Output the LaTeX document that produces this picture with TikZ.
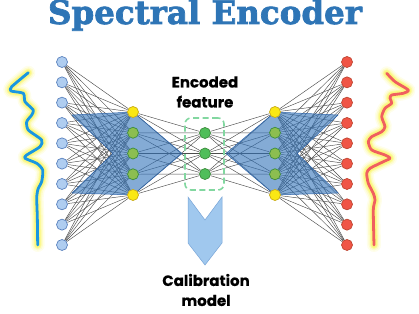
\documentclass[tikz,border=0pt]{standalone}
\usepackage{fontspec}
\setmainfont[BoldFeatures={FakeBold=0.6}]{Poppins}
\newfontfamily\titlefont[BoldFeatures={FakeBold=2.2}]{DejaVu Serif}
\usetikzlibrary{calc}
\pgfdeclarelayer{edges}
\pgfdeclarelayer{shade}
\pgfsetlayers{edges,shade,main}
\definecolor{titleblue}{RGB}{46,117,182}
\definecolor{inblue}{RGB}{175,205,240}
\definecolor{inblueD}{RGB}{90,130,190}
\definecolor{outred}{RGB}{240,85,70}
\definecolor{outredD}{RGB}{190,70,50}
\definecolor{hgreen}{RGB}{140,190,80}
\definecolor{egreen}{RGB}{80,190,90}
\definecolor{greenD}{RGB}{60,140,60}
\definecolor{nyellow}{RGB}{250,232,20}
\definecolor{nyellowD}{RGB}{200,170,20}
\definecolor{shadeblue}{RGB}{50,115,185}
\definecolor{shadeD}{RGB}{45,100,170}
\definecolor{boxgreen}{RGB}{130,215,160}
\definecolor{chevfill}{RGB}{160,200,238}
\definecolor{chevD}{RGB}{120,165,215}
\definecolor{wblue}{RGB}{25,150,225}
\definecolor{wred}{RGB}{240,95,95}
\definecolor{glow}{RGB}{250,245,90}
\tikzset{
  neuron/.style={circle, inner sep=0pt, minimum size=11pt, line width=0.7pt},
  inn/.style={neuron, fill=inblue, draw=inblueD},
  outn/.style={neuron, fill=outred, draw=outredD},
  hidn/.style={neuron, fill=hgreen, draw=greenD},
  encn/.style={neuron, fill=egreen, draw=greenD},
  yeln/.style={neuron, fill=nyellow, draw=nyellowD},
  edge/.style={draw=black!70, line width=0.45pt},
  shadeshape/.style={fill=shadeblue, fill opacity=0.6, draw=shadeD, line width=0.5pt},
  lbl/.style={font=\bfseries\fontsize{15}{20}\selectfont, align=center, text=black},
}
\begin{document}
\begin{tikzpicture}[x=1pt,y=-1pt]
\useasboundingbox (0,0) rectangle (419,313);
% title
\node[font=\titlefont\bfseries\fontsize{32.5}{34}\selectfont, text=titleblue] (title) at (205,15) {Spectral Encoder};
% neurons
\foreach \i in {1,...,10} {
  \node[inn] (a\i) at (62,{62+(\i-1)*20.33}) {};
  \node[outn] (e\i) at (347,{62+(\i-1)*20.33}) {};
}
\foreach \j in {1,...,5} {
  \ifnum\j=1 \def\st{yeln}\else\ifnum\j=5 \def\st{yeln}\else\def\st{hidn}\fi\fi
  \node[\st] (b\j) at (133,{112+(\j-1)*20.75}) {};
  \node[\st] (d\j) at (275,{112+(\j-1)*20.75}) {};
}
\foreach \k in {1,2,3} {
  \node[encn] (c\k) at (205,{133+(\k-1)*20.5}) {};
}
% edges
\begin{pgfonlayer}{edges}
\foreach \i in {1,...,10} \foreach \j in {1,...,5} {
  \draw[edge] (a\i) -- (b\j);
  \draw[edge] (d\j) -- (e\i);
}
\foreach \j in {1,...,5} \foreach \k in {1,2,3} {
  \draw[edge] (b\j) -- (c\k);
  \draw[edge] (c\k) -- (d\j);
}
\end{pgfonlayer}
% blue shading
\begin{pgfonlayer}{shade}
\path[shadeshape] (72,115) -- (133,112) -- (182,153.5) -- (133,195) -- (72,193) -- (113,153.5) -- cycle;
\path[shadeshape] (338,115) -- (275,112) -- (226,153.5) -- (275,195) -- (338,193) -- (297,153.5) -- cycle;
\end{pgfonlayer}
% encoded box
\node[draw=boxgreen, dashed, dash pattern=on 6pt off 3.5pt, line width=1.6pt, rounded corners=6pt, minimum width=39pt, minimum height=72pt] (box) at (204.5,154) {};
% labels
\node[lbl] (enc) at (205,92) {Encoded\\feature};
\node[lbl] (cal) at (206,290) {Calibration\\model};
% chevron arrow
\path[fill=chevfill, draw=chevD, line width=0.5pt] (188,197) -- (205,220) -- (222,197) -- (222,243) -- (205,265) -- (188,243) -- cycle;
% waves
\def\lw{(28.3,72.7) (11.7,86.7) (11,91) (23.3,93.3) (25,101.7) (33.3,110) (31.7,115) (26.7,121.7) (28.3,130) (41.7,140) (40,146.7) (26.7,155) (25,158.3) (36.7,163.3) (42.7,170) (41.7,181.7) (38.3,188.3) (36.7,196.7) (37.3,216.7) (37.7,245)}
\def\rw{(386.7,73.3) (395,81.7) (408.3,90) (403.3,93.3) (391.7,95) (390,98.3) (391.7,103.3) (385,108.3) (381.7,116.7) (385,126.7) (381.7,131.7) (371.7,136.7) (368.3,141.7) (371.7,150) (385,155) (390,158.3) (383.3,161.7) (370,168.3) (366.7,173.3) (368.3,183.3) (373.3,193.3) (375,200) (373.3,210) (374,245)}
\foreach \w/\o in {14/0.12, 11/0.2, 8/0.35, 6/0.5} {
  \draw[glow, line width=\w pt, opacity=\o, line cap=round, line join=round] plot[smooth, tension=0.4] coordinates {\lw};
  \draw[glow, line width=\w pt, opacity=\o, line cap=round, line join=round] plot[smooth, tension=0.4] coordinates {\rw};
}
\draw[wblue, line width=2.8pt, line cap=round, line join=round] plot[smooth, tension=0.4] coordinates {\lw};
\draw[wred, line width=2.8pt, line cap=round, line join=round] plot[smooth, tension=0.4] coordinates {\rw};
\end{tikzpicture}
\end{document}
